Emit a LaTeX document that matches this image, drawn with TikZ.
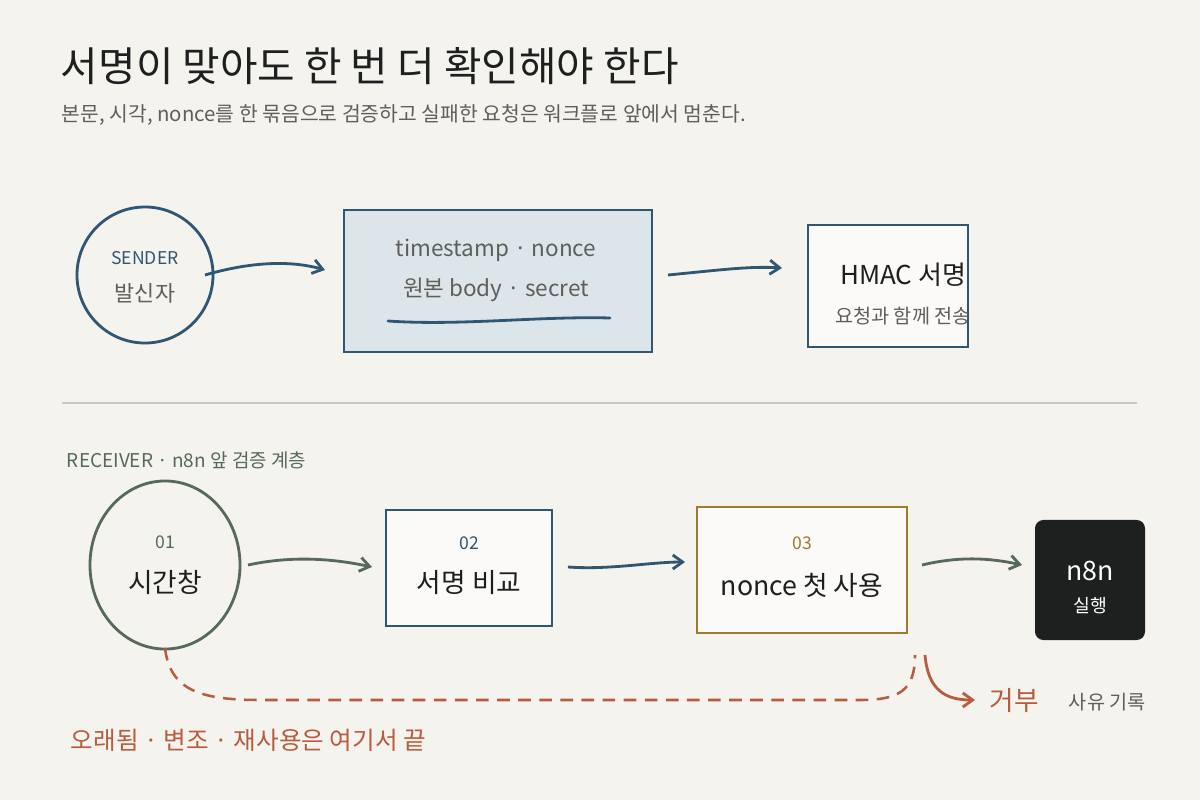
\documentclass[tikz,border=0pt]{standalone}
\usepackage{fontspec}
\setmainfont{Noto Sans CJK KR}
\usetikzlibrary{positioning}
\usetikzlibrary{arrows.meta}
\usetikzlibrary{shapes.geometric}
\definecolor{paper}{HTML}{F5F3EE}
\definecolor{ink}{HTML}{1E1F1F}
\definecolor{blueink}{HTML}{2F5673}
\definecolor{greenink}{HTML}{56695A}
\definecolor{goldink}{HTML}{A07A2C}
\definecolor{redink}{HTML}{B85C3F}
\definecolor{grayink}{HTML}{5E5E5A}
\definecolor{boxfill}{HTML}{DCE6EA}
\begin{document}
\begin{tikzpicture}[x=0.025cm,y=-0.025cm,font=\fontsize{15.5}{18}\selectfont,
      step box/.style={rectangle,draw=#1,line width=2pt,fill=white!60!paper},
      step num/.style={text=#1,font=\fontsize{12.5}{15}\selectfont},
      flow arrow/.style={draw=#1,line width=2pt,-{Straight Barb[length=7pt,width=10pt]}}
      ]
      \fill[paper] (0,0) rectangle (1200,800);

      \node[anchor=west,text=ink,font=\fontsize{29}{34}\selectfont] (title) at (56,66) {서명이 맞아도 한 번 더 확인해야 한다};
      \node[anchor=west,text=grayink,font=\fontsize{14.5}{17}\selectfont] (sub) at (57,115) {본문, 시각, nonce를 한 묶음으로 검증하고 실패한 요청은 워크플로 앞에서 멈춘다.};

      % sender side
      \node[circle,draw=blueink,line width=2pt,minimum size=3.4cm] (sender) at (145,275) {};
      \node[step num=blueink] (sendert) at (145,258) {SENDER};
      \node[text=grayink] (senders) at (145,293) {발신자};

      \node[step box=blueink,fill=boxfill,minimum width=7.7cm,minimum height=3.55cm] (payload) at (498,281) {};
      \node[text=grayink,font=\fontsize{16}{19}\selectfont] (pl1) at (496,250) {timestamp · nonce};
      \node[text=grayink,font=\fontsize{16}{19}\selectfont] (pl2) at (496,290) {원본 body · secret};
      \coordinate (ul1) at (388,321);
      \coordinate (ul2) at (610,318);
      \draw[blueink,line width=2pt,line cap=round] (ul1) .. controls (460,326) and (540,316) .. (ul2);

      \node[step box=blueink,minimum width=4cm,minimum height=3.05cm] (hmac) at (888,286) {};
      \node[text=ink,font=\fontsize{18.5}{22}\selectfont] (hmact) at (903,275) {HMAC 서명};
      \node[text=grayink,font=\fontsize{14}{17}\selectfont] (hmacs) at (903,316) {요청과 함께 전송};

      \coordinate (a1s) at (205,275);
      \coordinate (a1e) at (325,270);
      \coordinate (a2s) at (668,275);
      \coordinate (a2e) at (782,268);
      \draw[flow arrow=blueink] (a1s) .. controls (250,262) and (290,260) .. (a1e);
      \draw[flow arrow=blueink] (a2s) .. controls (720,270) and (750,266) .. (a2e);

      \coordinate (d1) at (62,403);
      \coordinate (d2) at (1137,403);
      \draw[color=black!18!paper,line width=1.2pt] (d1) -- (d2);

      % receiver side
      \node[anchor=west,text=greenink,font=\fontsize{13.5}{16}\selectfont] (recv) at (62,460) {RECEIVER · n8n 앞 검증 계층};

      \node[ellipse,draw=greenink,line width=2pt,minimum width=3.75cm,minimum height=4.2cm] (window) at (165,565) {};
      \node[step num=greenink] (w1) at (165,542) {01};
      \node[text=ink,font=\fontsize{19}{22}\selectfont] (w2) at (165,582) {시간창};

      \node[step box=blueink,minimum width=4.15cm,minimum height=2.9cm] (sig) at (469,568) {};
      \node[step num=blueink] (s1) at (469,543) {02};
      \node[text=ink,font=\fontsize{19}{22}\selectfont] (s2) at (469,583) {서명 비교};

      \node[step box=goldink,minimum width=5.25cm,minimum height=3.15cm] (nonce) at (802,570) {};
      \node[step num=goldink] (n1) at (802,543) {03};
      \node[text=ink,font=\fontsize{19}{22}\selectfont] (n2) at (802,585) {nonce 첫 사용};

      \node[rectangle,rounded corners=6pt,fill=ink,minimum width=2.75cm,minimum height=3cm] (run) at (1090,580) {};
      \node[text=white,font=\fontsize{19}{22}\selectfont] (r1) at (1090,571) {n8n};
      \node[text=white,font=\fontsize{13}{16}\selectfont] (r2) at (1090,606) {실행};

      \coordinate (b1s) at (248,565);
      \coordinate (b1e) at (372,567);
      \coordinate (b2s) at (568,567);
      \coordinate (b2e) at (685,562);
      \coordinate (b3s) at (922,565);
      \coordinate (b3e) at (1022,565);
      \draw[flow arrow=greenink] (b1s) .. controls (290,556) and (330,558) .. (b1e);
      \draw[flow arrow=blueink] (b2s) .. controls (610,570) and (650,562) .. (b2e);
      \draw[flow arrow=greenink] (b3s) .. controls (960,556) and (990,558) .. (b3e);

      % rejection path
      \coordinate (rj1) at (165,648);
      \coordinate (rj2) at (915,655);
      \coordinate (rj3) at (925,655);
      \coordinate (rj4) at (975,700);
      \draw[redink,line width=1.8pt,dash pattern=on 9pt off 6pt] (rj1) .. controls (170,690) and (200,700) .. (260,700)
        -- (860,700) .. controls (900,700) and (915,690) .. (rj2);
      \draw[flow arrow=redink] (rj3) .. controls (928,690) and (945,700) .. (rj4);
      \node[anchor=west,text=redink,font=\fontsize{19}{22}\selectfont] (rej) at (985,700) {거부};
      \node[anchor=west,text=grayink,font=\fontsize{14}{17}\selectfont] (log) at (1064,702) {사유 기록};
      \node[anchor=west,text=redink,font=\fontsize{17.5}{21}\selectfont] (end) at (66,740) {오래됨 · 변조 · 재사용은 여기서 끝};
    \end{tikzpicture}
\end{document}
